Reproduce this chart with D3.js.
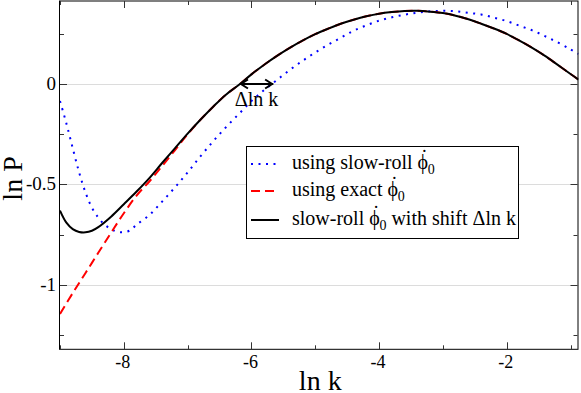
<!DOCTYPE html>
<html>
<head>
<meta charset="utf-8">
<title>ln P vs ln k</title>
<script src="https://cdn.jsdelivr.net/npm/d3@7"></script>
<style>
  body { margin: 0; background: #fff; }
  svg text { font-family: "Liberation Serif", "Times New Roman", serif; fill: #000; }
</style>
</head>
<body>
<div id="chart"></div>
<script>
// curve data (ln k, ln P)
var slowRollK = [-9.0, -8.9, -8.8, -8.7, -8.6, -8.5, -8.4, -8.3, -8.2, -8.1, -8.0, -7.9, -7.8, -7.6, -7.4, -7.2, -7.0, -6.8, -6.6, -6.4, -6.2, -6.0, -5.8, -5.6, -5.4, -5.2, -5.0, -4.8, -4.6, -4.4, -4.2, -4.0, -3.8, -3.6, -3.4, -3.2, -3.0, -2.8, -2.6, -2.4, -2.2, -2.0, -1.8, -1.6, -1.4, -1.2, -1.0, -0.875];
var slowRollP = [-0.085, -0.196, -0.32, -0.44, -0.54, -0.615, -0.665, -0.70, -0.722, -0.735, -0.737, -0.728, -0.70, -0.652, -0.585, -0.515, -0.44, -0.36, -0.285, -0.215, -0.15, -0.085, -0.03, 0.02, 0.07, 0.115, 0.157, 0.195, 0.23, 0.265, 0.292, 0.315, 0.332, 0.345, 0.355, 0.362, 0.364, 0.362, 0.354, 0.346, 0.33, 0.313, 0.29, 0.267, 0.238, 0.207, 0.172, 0.15];

var exactK = [-9.0, -8.8, -8.6, -8.4, -8.2, -8.0, -7.8, -7.6, -7.4, -7.2, -7.0, -6.8, -6.6, -6.4, -6.2, -6.0, -5.8, -5.6, -5.4, -5.2, -5.0, -4.8, -4.6, -4.4, -4.2, -4.0, -3.8, -3.6, -3.4, -3.2, -3.0, -2.8, -2.6, -2.4, -2.2, -2.0, -1.8, -1.6, -1.4, -1.2, -1.0, -0.875];
var exactP = [-1.144, -1.04, -0.94, -0.84, -0.74, -0.643, -0.555, -0.485, -0.408, -0.33, -0.25, -0.178, -0.113, -0.053, -0.005, 0.048, 0.096, 0.14, 0.18, 0.216, 0.248, 0.275, 0.30, 0.32, 0.337, 0.35, 0.358, 0.363, 0.364, 0.36, 0.353, 0.34, 0.322, 0.30, 0.276, 0.249, 0.216, 0.18, 0.14, 0.095, 0.05, 0.022];

var shiftedK = [-9.0, -8.9, -8.8, -8.7, -8.6, -8.5, -8.4, -8.2, -8.0, -7.8, -7.6, -7.4, -7.2, -7.0, -6.8, -6.6, -6.4, -6.2, -6.0, -5.8, -5.6, -5.4, -5.2, -5.0, -4.8, -4.6, -4.4, -4.2, -4.0, -3.8, -3.6, -3.4, -3.2, -3.0, -2.8, -2.6, -2.4, -2.2, -2.0, -1.8, -1.6, -1.4, -1.2, -1.0, -0.875];
var shiftedP = [-0.63, -0.69, -0.722, -0.736, -0.738, -0.73, -0.712, -0.66, -0.598, -0.535, -0.468, -0.393, -0.32, -0.247, -0.178, -0.113, -0.053, -0.005, 0.048, 0.096, 0.14, 0.18, 0.216, 0.248, 0.275, 0.30, 0.32, 0.337, 0.35, 0.358, 0.363, 0.364, 0.36, 0.353, 0.34, 0.322, 0.30, 0.276, 0.249, 0.216, 0.18, 0.14, 0.095, 0.05, 0.022];

var xMajor = [-8, -6, -4, -2];
var xMinor = [-9, -7, -5, -3, -1];
var yMajor = [0, -0.5, -1];
var yMinor = [0.25, -0.25, -0.75, -1.25];
var yTickLabels = ['0', '-0.5', '-1'];

var shiftFrom = -6.18, shiftTo = -5.66;

var width = 581, height = 393;
var pL = 60, pR = 578.5, pT = 1, pB = 349.3;

var svg = d3.select('#chart').append('svg')
    .attr('width', width)
    .attr('height', height);

var x = d3.scaleLinear().domain([-9, -0.875]).range([pL, pR]);
var y = d3.scaleLinear().domain([-1.32, 0.413]).range([pB, pT]);

// grid lines
svg.selectAll('.grid')
    .data(yMajor)
    .enter()
    .append('line')
        .attr('x1', pL).attr('x2', pR)
        .attr('y1', d => Math.round(y(d)) + 0.5)
        .attr('y2', d => Math.round(y(d)) + 0.5)
        .attr('stroke', '#dcdcdc')
        .attr('stroke-width', 1);

svg.append('clipPath').attr('id', 'clip')
    .append('rect')
        .attr('x', pL).attr('y', pT)
        .attr('width', pR - pL).attr('height', pB - pT);

var line = d3.line()
    .x(d => x(d[0]))
    .y(d => y(d[1]))
    .curve(d3.curveCatmullRom);

var plot = svg.append('g').attr('clip-path', 'url(#clip)');

plot.append('path')
    .datum(slowRollK.map((k, i) => [k, slowRollP[i]]))
    .attr('d', line)
    .attr('fill', 'none')
    .attr('stroke', '#0000ff')
    .attr('stroke-width', 2)
    .attr('stroke-dasharray', '2,5.5');

plot.append('path')
    .datum(exactK.map((k, i) => [k, exactP[i]]))
    .attr('d', line)
    .attr('fill', 'none')
    .attr('stroke', '#ff0000')
    .attr('stroke-width', 2)
    .attr('stroke-dasharray', '9,5');

plot.append('path')
    .datum(shiftedK.map((k, i) => [k, shiftedP[i]]))
    .attr('d', line)
    .attr('fill', 'none')
    .attr('stroke', '#000')
    .attr('stroke-width', 2);

// frame
svg.append('rect')
    .attr('x', pL - 0.5).attr('y', pT)
    .attr('width', pR - pL).attr('height', pB - pT)
    .attr('fill', 'none')
    .attr('stroke', '#000')
    .attr('stroke-width', 1);

// ticks, all pointing inward
function xTicks(vals, len) {
    svg.selectAll(null).data(vals).enter().append('line')
        .attr('x1', d => Math.round(x(d)) + 0.5).attr('x2', d => Math.round(x(d)) + 0.5)
        .attr('y1', pB).attr('y2', pB - len)
        .attr('stroke', '#333');
    svg.selectAll(null).data(vals).enter().append('line')
        .attr('x1', d => Math.round(x(d)) + 0.5).attr('x2', d => Math.round(x(d)) + 0.5)
        .attr('y1', pT).attr('y2', pT + len)
        .attr('stroke', '#333');
}
function yTicks(vals, len) {
    svg.selectAll(null).data(vals).enter().append('line')
        .attr('y1', d => Math.round(y(d)) + 0.5).attr('y2', d => Math.round(y(d)) + 0.5)
        .attr('x1', pL).attr('x2', pL + len)
        .attr('stroke', '#333');
    svg.selectAll(null).data(vals).enter().append('line')
        .attr('y1', d => Math.round(y(d)) + 0.5).attr('y2', d => Math.round(y(d)) + 0.5)
        .attr('x1', pR - 1).attr('x2', pR - 1 - len)
        .attr('stroke', '#333');
}
xTicks(xMajor, 7);
xTicks(xMinor, 4);
yTicks(yMajor, 7);
yTicks(yMinor, 4);

svg.selectAll('.xlab')
    .data(xMajor)
    .enter()
    .append('text')
        .attr('x', d => x(d) - 1)
        .attr('y', pB + 19)
        .attr('text-anchor', 'middle')
        .style('font-size', '18px')
        .text(d => d);

svg.selectAll('.ylab')
    .data(yMajor)
    .enter()
    .append('text')
        .attr('x', pL - 4)
        .attr('y', d => y(d) + 6)
        .attr('text-anchor', 'end')
        .style('font-size', '19px')
        .text((d, i) => yTickLabels[i]);

svg.append('text')
    .attr('x', (pL + pR) / 2 + 1)
    .attr('y', 390)
    .attr('text-anchor', 'middle')
    .style('font-size', '28px')
    .text('ln k');

svg.append('text')
    .attr('transform', 'translate(22,' + y(-0.47) + ') rotate(-90)')
    .attr('text-anchor', 'middle')
    .style('font-size', '28px')
    .text('ln P');

// shift arrow
var ay = y(0);
svg.append('line')
    .attr('x1', x(shiftFrom)).attr('x2', x(shiftTo))
    .attr('y1', ay).attr('y2', ay)
    .attr('stroke', '#000').attr('stroke-width', 2);
svg.append('path')
    .attr('d', `M${x(shiftFrom) + 8},${ay - 4.5} L${x(shiftFrom) + 1},${ay} L${x(shiftFrom) + 8},${ay + 4.5}`
        + `M${x(shiftTo) - 8},${ay - 4.5} L${x(shiftTo) - 1},${ay} L${x(shiftTo) - 8},${ay + 4.5}`)
    .attr('fill', 'none')
    .attr('stroke', '#000')
    .attr('stroke-width', 2);
svg.append('text')
    .attr('x', (x(shiftFrom) + x(shiftTo)) / 2)
    .attr('y', 106)
    .attr('text-anchor', 'middle')
    .style('font-size', '20px')
    .text('\u0394ln k');

// legend
var legend = svg.append('g');
legend.append('rect')
    .attr('x', 246.5).attr('y', 146.5)
    .attr('width', 272).attr('height', 92)
    .attr('fill', '#fff')
    .attr('stroke', '#000');

var legendItems = [
    { pre: 'using slow-roll ', post: '', color: '#0000ff', dash: '2,5.5', y: 164 },
    { pre: 'using exact ', post: '', color: '#ff0000', dash: '9,5', y: 191 },
    { pre: 'slow-roll ', post: ' with shift \u0394ln k', color: '#000', dash: null, y: 220 }
];
legendItems.forEach(it => {
    legend.append('line')
        .attr('x1', 251).attr('x2', 279)
        .attr('y1', it.y).attr('y2', it.y)
        .attr('stroke', it.color)
        .attr('stroke-width', 2)
        .attr('stroke-dasharray', it.dash);
    var t = legend.append('text')
        .attr('x', 292)
        .attr('y', it.y + 5)
        .style('font-size', '20px');
    t.append('tspan').text(it.pre + '\u03D5');
    t.append('tspan').attr('dx', -7).attr('dy', -5).text('\u02D9');
    t.append('tspan').attr('dy', 10).style('font-size', '14px').text('0');
    if (it.post) t.append('tspan').attr('dy', -5).text(it.post);
});
</script>
</body>
</html>
